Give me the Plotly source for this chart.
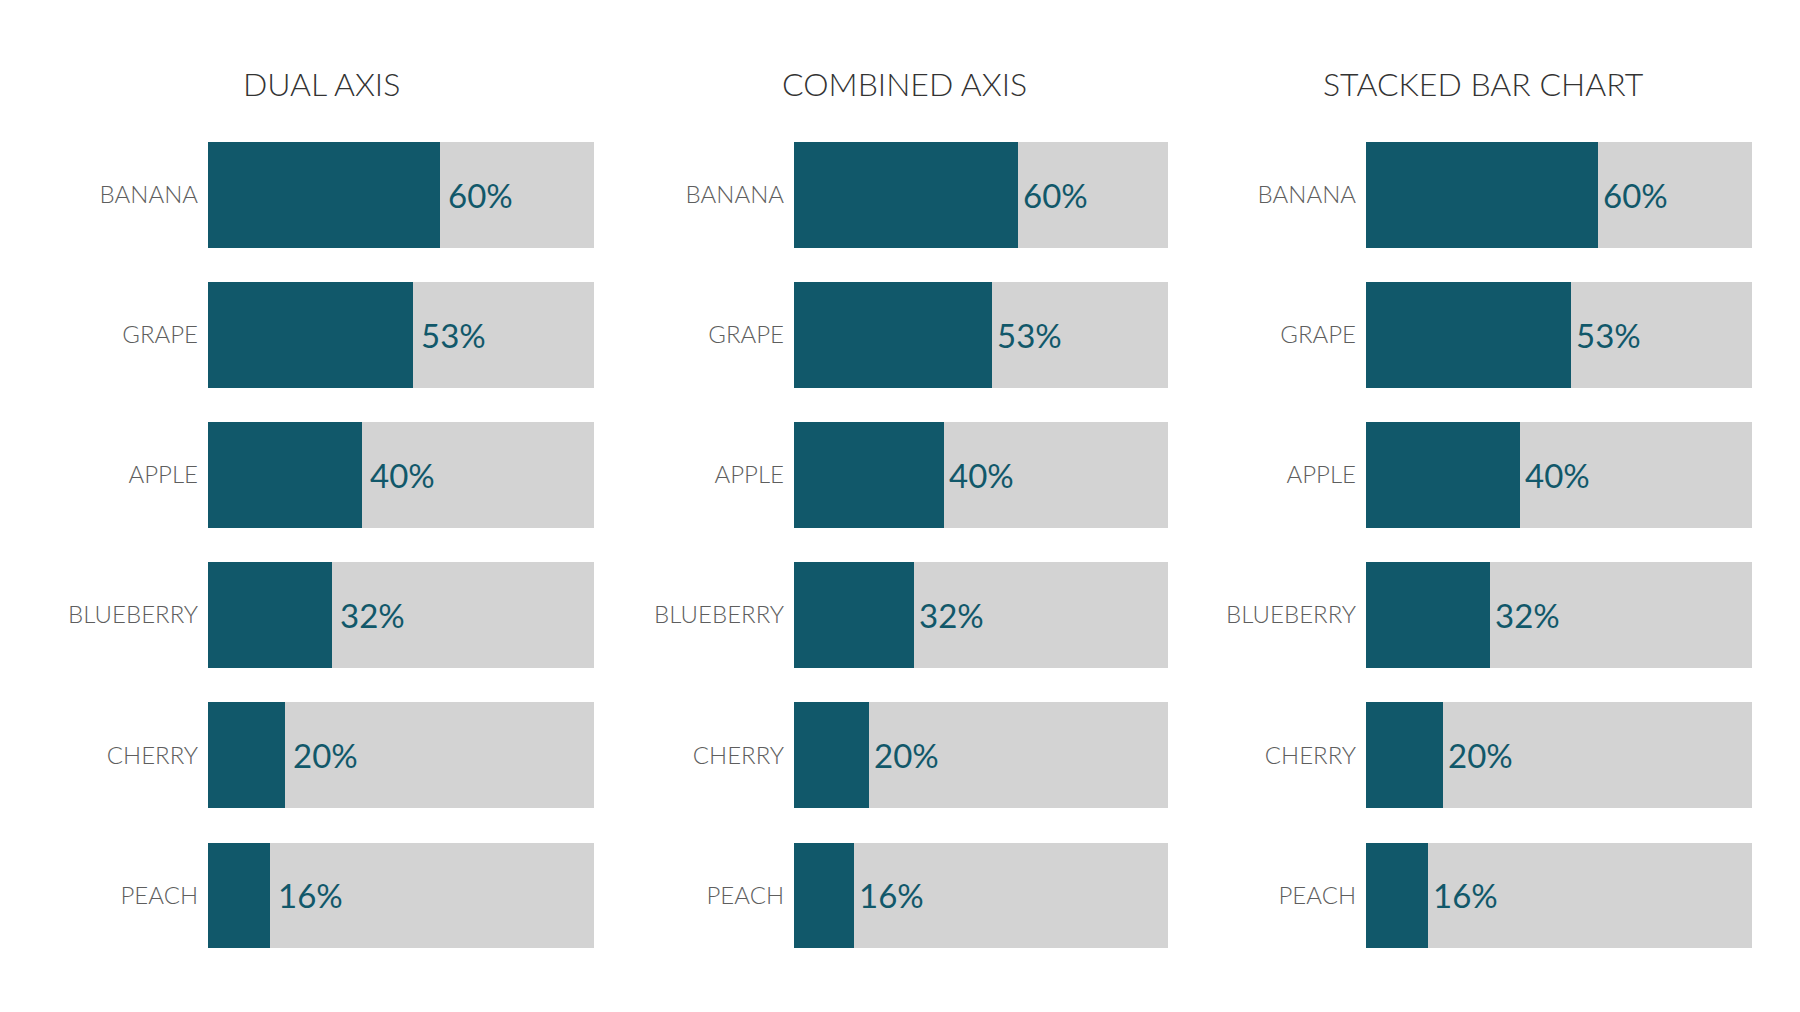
import plotly.graph_objects as go

categories = ["BANANA", "GRAPE", "APPLE", "BLUEBERRY", "CHERRY", "PEACH"]
values = [0.60, 0.53, 0.40, 0.32, 0.20, 0.16]
totals = [1.0, 1.0, 1.0, 1.0, 1.0, 1.0]
panel_titles = ["DUAL AXIS", "COMBINED AXIS", "STACKED BAR CHART"]

# page is 1800x1012; the html body has an 8px margin, so the figure is shifted by 8px
OFF = 8
W, H = 1800 - 2 * OFF, 1012 - 2 * OFF
TEAL = "#11586A"
GREY = "#D3D3D3"
FONT = "Lato, 'Open Sans', sans-serif"

# pixel layout on the page (left, right) of each bar area
panels_px = [(208, 594), (794, 1168), (1366, 1752)]
label_shift = [6, 3, 3]
title_cx_px = [321, 904, 1483]
title_cy_px = 83
y_top_px, y_bot_px = 124.8, 965.2


def px_x(p):
    return (p - OFF) / W


def px_y(p):
    return 1 - (p - OFF) / H


fig = go.Figure()
bar_w = 0.754

for i, (l, r) in enumerate(panels_px):
    xa = "x" if i == 0 else f"x{i+1}"
    ya = "y" if i == 0 else f"y{i+1}"
    if i < 2:
        fig.add_trace(go.Bar(x=totals, y=categories, orientation="h", marker_color=GREY,
                             marker_line_width=0, width=bar_w, xaxis=xa, yaxis=ya,
                             hoverinfo="skip", showlegend=False))
        fig.add_trace(go.Bar(x=values, y=categories, orientation="h", marker_color=TEAL,
                             marker_line_width=0, width=bar_w, xaxis=xa, yaxis=ya,
                             showlegend=False))
    else:
        remainder = [t - v for t, v in zip(totals, values)]
        fig.add_trace(go.Bar(x=values, y=categories, orientation="h", marker_color=TEAL,
                             marker_line_width=0, width=bar_w, xaxis=xa, yaxis=ya,
                             showlegend=False))
        fig.add_trace(go.Bar(x=remainder, base=values, y=categories, orientation="h",
                             marker_color=GREY, marker_line_width=0, width=bar_w,
                             xaxis=xa, yaxis=ya, hoverinfo="skip", showlegend=False))
    for c, v in zip(categories, values):
        fig.add_annotation(x=v, y=c, xref=xa, yref=ya, text=f"{round(v*100)}%",
                           showarrow=False, xanchor="left", yanchor="middle",
                           xshift=label_shift[i],
                           font=dict(family=FONT, size=33, color=TEAL, weight=400))
    fig.add_annotation(x=px_x(title_cx_px[i]), y=px_y(title_cy_px), xref="paper", yref="paper",
                       text=panel_titles[i], showarrow=False, xanchor="center", yanchor="middle",
                       font=dict(family=FONT, size=32, color="#333333", weight=300))
    xkey = "xaxis" if i == 0 else f"xaxis{i+1}"
    ykey = "yaxis" if i == 0 else f"yaxis{i+1}"
    fig.update_layout(**{
        xkey: dict(domain=[px_x(l), px_x(r)], range=[0, 1], visible=False, fixedrange=True,
                   anchor=ya),
        ykey: dict(domain=[px_y(y_bot_px), px_y(y_top_px)], anchor=xa,
                   categoryorder="array", categoryarray=categories[::-1],
                   range=[-0.5, 5.5], showgrid=False, zeroline=False, showline=False,
                   ticks="", ticklabelstandoff=9, fixedrange=True,
                   tickfont=dict(family=FONT, size=24, color="#5E5E5E", weight=300)),
    })

fig.update_layout(width=W, height=H, barmode="overlay", bargap=0,
                  margin=dict(l=0, r=0, t=0, b=0),
                  plot_bgcolor="white", paper_bgcolor="white")

fig.write_html("out.html")
